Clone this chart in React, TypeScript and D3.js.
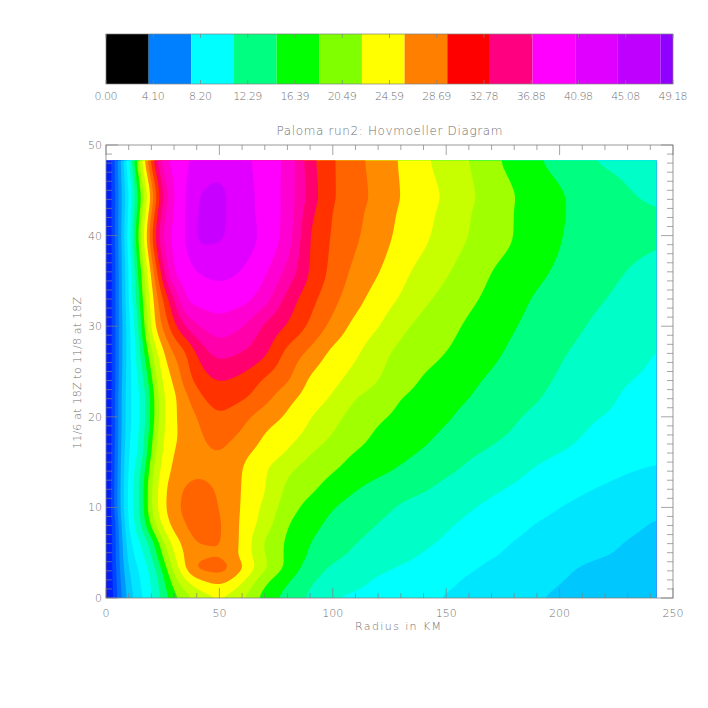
import React from "react";
import * as d3 from "d3";

const CONTOUR_STEP = 2.049;
const RADII = [0,5,10,15,20,25,30,35,40,50,60,70,80,90,100,110,120,130,140,150,160,170,180,190,200,215,230,242.6];
const TIMES = [0,2,3.5,4.5,6,8,10,12,14,16,18,20,22,24,27,30,33,36,40,43,44,48.3];
// wind speed at each time (row) and radius (column), in contour intervals
const SPEED = [
[.2,3.0,5.5,6.7,7.9,9.3,10.6,11.5,12.2,12.85,12.05,10.55,9.6,8.8,8.0,7.8,7.6,7.35,7.15,6.92,6.75,6.5,6.3,6.05,5.85,5.65,5.5,5.3],
[.2,3.2,5.8,7,8.1,9.7,11.6,12.9,13.8,14.4,13.2,11.3,10.15,9.2,8.6,8.3,7.9,7.7,7.45,7.2,6.9,6.75,6.55,6.3,6.05,5.75,5.55,5.4],
[.2,3.3,6.2,7.2,8.45,10.4,12.45,14.1,15.3,15.5,14.2,12.25,10.8,9.6,8.9,8.55,8.25,7.95,7.75,7.45,7.15,6.85,6.65,6.4,6.2,5.85,5.65,5.45],
[.2,3.4,6.4,7.5,8.9,11,12.85,14.15,14.7,14.9,13.7,12.05,10.8,9.85,9.2,8.8,8.5,8.2,7.9,7.6,7.3,7.05,6.8,6.65,6.4,6.1,5.85,5.6],
[.2,3.4,6.7,7.9,9.4,11.7,13.4,14.35,15,15.05,13.75,11.9,10.85,10,9.5,9,8.7,8.4,8.15,7.85,7.55,7.25,6.95,6.75,6.55,6.25,5.95,5.7],
[.2,3.5,7.2,8.7,11.2,13.15,14.35,14.95,15.45,15.1,13.8,12.5,11.05,10.3,9.75,9.35,8.95,8.65,8.4,8.1,7.8,7.5,7.25,6.95,6.8,6.5,6.2,5.9],
[.2,4,7.4,9,12,13.7,14.65,15.25,15.5,14.98,13.9,12.75,11.5,10.65,10.05,9.65,9.3,8.9,8.6,8.4,8.1,7.8,7.55,7.25,7,6.65,6.4,6.2],
[.2,4,7.4,9,12,13.65,14.55,15.1,15.3,14.85,13.95,13.05,11.8,11.2,10.55,10.05,9.65,9.4,9.1,8.75,8.45,8.15,7.9,7.65,7.4,7.0,6.7,6.4],
[.2,3.9,7.3,8.7,11.75,13.35,14.25,14.6,14.85,14.7,14.0,13.1,12.15,11.55,11.05,10.6,10.2,9.85,9.45,9.15,8.8,8.45,8.2,7.9,7.65,7.35,7.05,6.85],
[.2,3.8,7.2,8.1,11.2,13.1,14.05,14.4,14.75,14.98,14.25,13.6,12.9,12.05,11.45,10.95,10.6,10.25,9.9,9.55,9.15,8.85,8.55,8.25,8,7.7,7.45,7.25],
[.2,3.7,7,8,10.75,12.9,13.85,14.35,14.8,15.35,14.85,13.95,13.4,12.7,11.95,11.4,10.85,10.55,10.2,9.85,9.55,9.2,8.9,8.6,8.3,7.9,7.75,7.6],
[.2,3.7,6.9,7.9,10.3,12.85,13.85,14.45,15,15.85,15.3,14.5,13.85,13.05,12.3,11.65,11.15,10.8,10.4,10.1,9.75,9.45,9.1,8.8,8.5,8.05,7.85,7.7],
[.2,3.7,6.9,7.9,10.3,12.9,13.8,14.7,15.6,16.45,16.1,15.3,14.3,13.55,12.85,12.0,11.55,11,10.65,10.3,10,9.65,9.35,9.05,8.75,8.3,7.9,7.75],
[.2,3.6,6.8,8.2,10.8,13.2,14.15,15.4,16.25,17.03,16.7,15.85,15.1,13.85,13.25,12.6,12,11.45,10.9,10.55,10.2,9.85,9.5,9.2,8.9,8.45,8.03,7.85],
[.2,3.6,6.7,8.8,11.9,13.8,15.1,15.9,17.1,18.3,17.95,17.15,15.7,14.75,13.75,13.15,12.35,11.75,11.35,10.98,10.6,10.2,9.8,9.5,9.1,8.7,8.3,7.97],
[.2,3.6,6.7,9.4,13.3,15.1,16.7,18,18.9,19.55,19.05,17.85,16.9,15.8,14.7,13.7,13.05,12.25,11.7,11.3,10.85,10.45,10.05,9.7,9.35,8.9,8.5,8.22],
[.2,3.6,7,10.1,13.6,16,18,20,20.35,20.5,20.3,19.4,17.65,16.35,15.3,14.35,13.55,12.9,12.2,11.7,11.2,10.75,10.3,9.9,9.6,9.15,8.75,8.45],
[.2,3.6,7.1,10.65,14.3,17.6,20.1,20.5,21,21.25,20.95,20.15,18.7,16.9,15.7,14.75,14.05,13.3,12.65,12.1,11.55,11,10.6,10.2,9.85,9.4,8.98,8.8],
[.2,3.7,7.4,11.6,15.65,19,20.3,20.9,22.15,22.1,21.45,20.75,19.5,17,15.9,15.15,14.45,13.75,13.2,12.55,11.98,11.45,10.98,10.5,10.05,9.6,9.2,9.05],
[.2,3.7,7.1,11,14.7,18.4,20.1,20.9,22.05,22.2,21.3,20.75,19.6,17.4,16.0,15.3,14.6,13.9,13.35,12.75,12.1,11.5,11,10.45,10.1,9.6,9.25,9.05],
[.2,3.7,7.0,10.75,14.3,18.0,20.1,20.9,22,22.2,21.3,20.75,19.6,17.6,16.1,15.4,14.7,13.98,13.4,12.85,12.2,11.55,11.03,10.55,10.1,9.6,9.15,8.8],
[.2,3.8,7.8,12.3,16.3,19.5,20.35,20.8,21.3,21.65,21.25,20.6,19.7,17.4,16.1,15.3,14.6,13.9,13.2,12.55,12,11.25,10.65,10.1,9.65,9,8.7,8.55],
];
const BAND_COLORS = [
  "rgb(0,0,225)","rgb(0,30,255)","rgb(0,70,255)","rgb(0,110,255)","rgb(0,150,255)","rgb(0,200,255)",
  "rgb(0,230,255)","rgb(0,255,255)","rgb(0,255,200)","rgb(0,255,128)","rgb(0,255,0)","rgb(160,255,0)",
  "rgb(200,255,0)","rgb(255,255,0)","rgb(255,140,0)","rgb(255,100,0)","rgb(255,50,0)","rgb(255,0,110)",
  "rgb(255,0,170)","rgb(255,0,210)","rgb(255,0,255)","rgb(225,0,255)","rgb(200,0,255)",
];
const BAR_COLORS = ["#000000","#0080ff","#00ffff","#00ff80","#00ff00","#80ff00","#ffff00","#ff8000","#ff0000","#ff0080","#ff00ff","#e000ff","#c000ff","#9000ff"];
const BAR_CELL = 3.7;
const BAR_MAX = 49.18;
const BAR_TICKS = [0,4.10,8.20,12.29,16.39,20.49,24.59,28.69,32.78,36.88,40.98,45.08,49.18];
const X_MAJOR = [0,50,100,150,200,250];
const Y_MAJOR = [0,10,20,30,40,50];
const TITLE = "Paloma run2: Hovmoeller Diagram";
const X_TITLE = "Radius in KM";
const Y_TITLE = "11/6 at 18Z to 11/8 at 18Z";

const AXIS = "#808080";
const TEXT = "#707070";
const FONT = "'DejaVu Sans', sans-serif";

// shape-preserving cubic through the read values, used only to draw smooth contour lines
function pchip(xs: number[], ys: number[]) {
  const n = xs.length;
  const h = d3.range(n - 1).map((i) => xs[i + 1] - xs[i]);
  const s = d3.range(n - 1).map((i) => (ys[i + 1] - ys[i]) / h[i]);
  const m = d3.range(n).map((i) => {
    if (i === 0) return s[0];
    if (i === n - 1) return s[n - 2];
    if (s[i - 1] * s[i] <= 0) return 0;
    const w1 = 2 * h[i] + h[i - 1];
    const w2 = h[i] + 2 * h[i - 1];
    return (w1 + w2) / (w1 / s[i - 1] + w2 / s[i]);
  });
  return (v: number) => {
    let i = d3.bisectRight(xs, v) - 1;
    i = Math.max(0, Math.min(n - 2, i));
    const t = (v - xs[i]) / h[i];
    const t2 = t * t;
    const t3 = t2 * t;
    return (2 * t3 - 3 * t2 + 1) * ys[i] + (t3 - 2 * t2 + t) * h[i] * m[i] + (-2 * t3 + 3 * t2) * ys[i + 1] + (t3 - t2) * h[i] * m[i + 1];
  };
}

export default function App() {
  const x = d3.scaleLinear().domain([0, 250]).range([106, 673]);
  const y = d3.scaleLinear().domain([0, 50]).range([598, 145]);
  const barX = d3.scaleLinear().domain([0, BAR_MAX]).range([106, 673]);
  const rMax = RADII[RADII.length - 1];
  const tMax = TIMES[TIMES.length - 1];
  const nx = 276;
  const ny = 220;
  const fineR = d3.range(nx).map((i) => (i * rMax) / (nx - 1));
  const fineT = d3.range(ny).map((j) => (j * tMax) / (ny - 1));
  const rowFns = SPEED.map((row) => pchip(RADII, row));
  const fine = new Float64Array(nx * ny);
  fineR.forEach((r, i) => {
    const colFn = pchip(TIMES, rowFns.map((f) => f(r)));
    fineT.forEach((t, j) => {
      fine[j * nx + i] = colFn(t) * CONTOUR_STEP;
    });
  });
  d3.blur2({ data: fine, width: nx, height: ny }, 2, 2);
  const levels = BAND_COLORS.slice(1).map((_, i) => (i + 1) * CONTOUR_STEP);
  const contours = d3.contours().size([nx, ny]).thresholds(levels)(fine as any);
  const colX = d3.scaleLinear().domain([0, nx - 1]).range([x(0), x(rMax)]).clamp(true);
  const rowY = d3.scaleLinear().domain([0, ny - 1]).range([y(0), y(tMax)]).clamp(true);
  const path = d3.geoPath(
    d3.geoTransform({
      point(px: number, py: number) {
        (this as any).stream.point(colX(px - 0.5), rowY(py - 0.5));
      },
    })
  );
  const xMinor = d3.range(0, 251, 10);
  const yMinor = d3.range(0, 51, 1);
  const barCells = BAR_COLORS.map((c, i) => ({ c, a: i * BAR_CELL, b: Math.min((i + 1) * BAR_CELL, BAR_MAX) }));
  const textStyle = { fontFamily: FONT, fontSize: 11, fill: TEXT, fontWeight: 300 } as const;
  return (
    <svg width={708} height={708} style={{ position: "absolute", left: 0, top: 0, display: "block", background: "#fff" }}>
      {barCells.map((d, i) => (
        <rect key={i} x={barX(d.a)} y={34} width={barX(d.b) - barX(d.a)} height={50} fill={d.c} />
      ))}
      <rect x={106} y={34} width={567} height={50} fill="none" stroke={AXIS} strokeWidth={0.7} />
      {BAR_TICKS.map((t, i) => (
        <g key={i} stroke={AXIS} strokeWidth={0.7}>
          <line x1={barX(t)} x2={barX(t)} y1={34} y2={38} />
          <line x1={barX(t)} x2={barX(t)} y1={84} y2={80} />
        </g>
      ))}
      {BAR_TICKS.map((t, i) => {
        const label = t.toFixed(2);
        return (
          <text key={i} x={barX(t)} y={100} textAnchor="middle" {...textStyle} textLength={label.length > 4 ? 29 : 23}>
            {label}
          </text>
        );
      })}

      <rect x={x(0)} y={y(tMax)} width={x(rMax) - x(0)} height={y(0) - y(tMax)} fill={BAND_COLORS[0]} />
      {contours.map((c, i) => (
        <path key={i} d={path(c as any) ?? ""} fill={BAND_COLORS[i + 1]} />
      ))}

      <rect x={106} y={145} width={567} height={453} fill="none" stroke={AXIS} strokeWidth={0.8} />
      {xMinor.map((t) => {
        const len = t % 50 === 0 ? 10 : 5;
        return (
          <g key={t} stroke={AXIS} strokeWidth={0.7}>
            <line x1={x(t)} x2={x(t)} y1={598} y2={598 - len} />
            <line x1={x(t)} x2={x(t)} y1={145} y2={145 + len} />
          </g>
        );
      })}
      {yMinor.map((t) => {
        const len = t % 10 === 0 ? 12 : 6;
        return (
          <g key={t} stroke={AXIS} strokeWidth={0.7}>
            <line x1={106} x2={106 + len} y1={y(t)} y2={y(t)} />
            <line x1={673} x2={673 - len} y1={y(t)} y2={y(t)} />
          </g>
        );
      })}
      {X_MAJOR.map((t) => (
        <text key={t} x={x(t)} y={617} textAnchor="middle" {...textStyle}>{t}</text>
      ))}
      {Y_MAJOR.map((t) => (
        <text key={t} x={102} y={y(t) + 4} textAnchor="end" {...textStyle}>{t}</text>
      ))}
      <text x={389.5} y={135} textAnchor="middle" {...textStyle} fontSize={12} textLength={226}>{TITLE}</text>
      <text x={398} y={630} textAnchor="middle" {...textStyle} textLength={86}>{X_TITLE}</text>
      <text transform={`translate(81,373) rotate(-90)`} textAnchor="middle" {...textStyle} textLength={152}>{Y_TITLE}</text>
    </svg>
  );
}
